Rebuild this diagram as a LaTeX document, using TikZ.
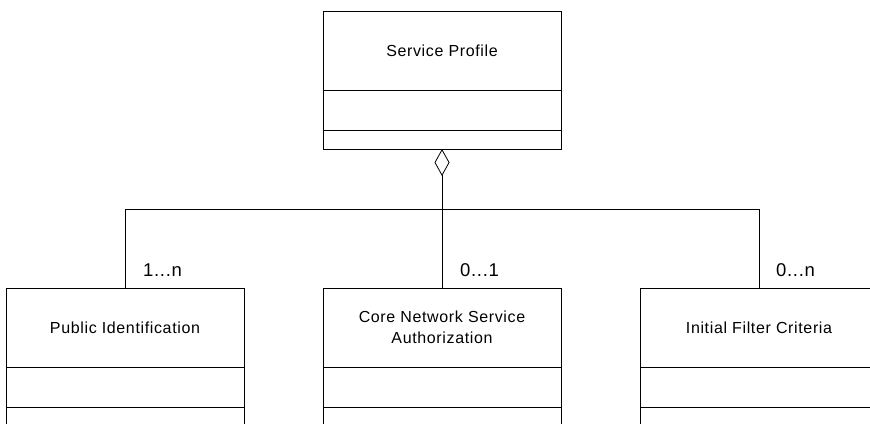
\documentclass[tikz,border=0pt]{standalone}
\usepackage{fontspec}
\setmainfont{Liberation Sans}
\newfontfamily\umlfont[LetterSpace=4]{Liberation Sans}
\usetikzlibrary{positioning,arrows.meta}
\newcommand{\clsfont}{\umlfont\fontsize{16}{21}\selectfont}
\newcommand{\multfont}{\umlfont\fontsize{18.5}{22}\selectfont}

\begin{document}
\begin{tikzpicture}[x=1pt,y=-1pt,line width=0.8pt,
  every node/.style={outer sep=0pt,inner sep=0pt},
  clsname/.style={draw,minimum width=238pt,minimum height=79pt,align=center,font=\clsfont},
  clsattr/.style={draw,minimum width=238pt,minimum height=40pt},
  clsops/.style={draw,minimum width=238pt,minimum height=19pt},
  mult/.style={anchor=base west,font=\multfont},
  aggr/.style={-{Diamond[open,length=27pt,width=15pt]}}]
  \useasboundingbox (0,0) rectangle (870,423);
  \clip (0,0) rectangle (870,423);
  % classes
  \node[clsname] (sp) at (442,50.5) {Service Profile};
  \node[clsattr,below=0pt of sp] (spattr) {};
  \node[clsops,below=0pt of spattr] (spops) {};
  \node[clsname] (pubid) at (125,327.5) {Public Identification};
  \node[clsname] (cnsa) at (442,327.5) {Core Network Service\\Authorization};
  \node[clsname] (ifc) at (759,327.5) {Initial Filter Criteria};
  \foreach \c in {pubid,cnsa,ifc} {
    \node[clsattr,below=0pt of \c] (\c attr) {};
    \node[clsops,below=0pt of \c attr] (\c ops) {};
  }
  % aggregation
  \coordinate (hub) at (442,209);
  \draw (pubid.north) -- (pubid.north |- hub) -- (ifc.north |- hub) -- (ifc.north);
  \draw (cnsa.north) -- (hub);
  \draw[aggr] (hub) -- (spops.south);
  \node[mult] (mpubid) at ([xshift=18pt,yshift=12pt]pubid.north) {1...n};
  \node[mult] (mcnsa) at ([xshift=18pt,yshift=12pt]cnsa.north) {0...1};
  \node[mult] (mifc) at ([xshift=17pt,yshift=12pt]ifc.north) {0...n};
\end{tikzpicture}
\end{document}
